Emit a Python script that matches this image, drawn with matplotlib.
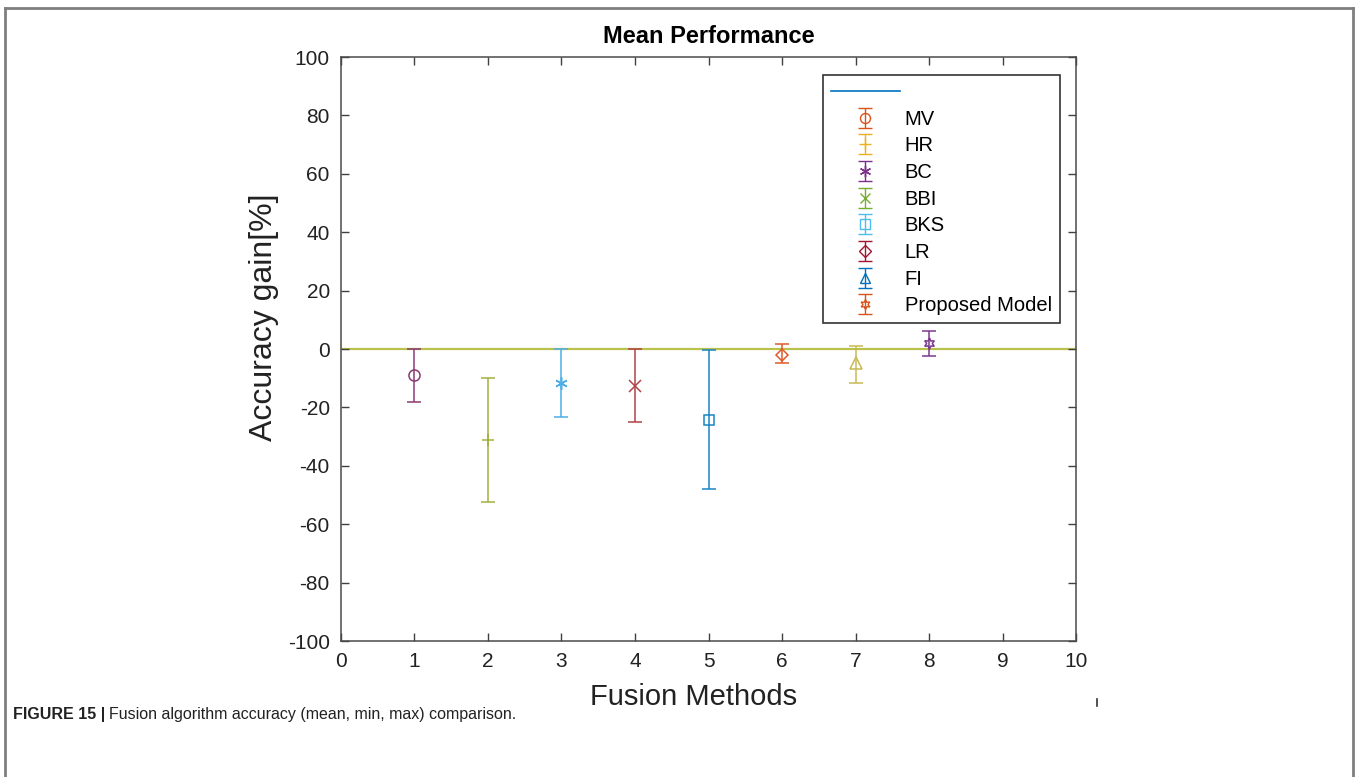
import numpy as np
import matplotlib.pyplot as plt
from matplotlib.lines import Line2D

# fusion methods on the x axis, accuracy gain (mean, min, max) in percent
method_pos = [1, 2, 3, 4, 5, 6, 7, 8]
mean_gain = [-9.0, -31.3, -11.6, -12.5, -24.3, -2.0, -4.8, 2.1]
min_gain = [-18.3, -52.4, -23.3, -24.9, -48.0, -4.7, -11.5, -2.3]
max_gain = [0.0, -10.0, 0.0, 0.0, -0.3, 1.6, 1.0, 6.2]

point_colors = ['#8a3a72', '#a3b13c', '#4eaee6', '#b04448', '#1a84c6',
                '#de5a2a', '#c9b955', '#7c3a8e']
markers = ['o', '+', (6, 2, 0), 'x', 's', 'D', '^', (6, 1, 0)]
marker_sizes = [8, 9, 9, 8, 7.5, 6.5, 8, 8]

legend_labels = ['MV', 'HR', 'BC', 'BBI', 'BKS', 'LR', 'FI', 'Proposed Model']
legend_colors = ['#d95319', '#edb120', '#7e2f8e', '#77ac30', '#4dbeee',
                 '#a2142f', '#0072bd', '#d95319']

plt.rcParams['font.family'] = ['Liberation Sans', 'DejaVu Sans']
plt.rcParams['axes.unicode_minus'] = False

fig = plt.figure(figsize=(13.59, 7.77), dpi=100)
ax = fig.add_axes([0.2509, 0.175, 0.5409, 0.7516])

# baseline at zero gain
ax.plot([0, 10], [0, 0], color='#b9c24a', lw=1.6, zorder=1)
base_proxy = Line2D([], [], color='#0072bd', lw=1.2)

for i in range(len(method_pos)):
    lo = mean_gain[i] - min_gain[i]
    hi = max_gain[i] - mean_gain[i]
    ax.errorbar([method_pos[i]], [mean_gain[i]], yerr=[[lo], [hi]],
                color=point_colors[i], marker=markers[i], ms=marker_sizes[i],
                mfc='none', mew=1.1, elinewidth=1.1, capsize=5, capthick=1.1,
                ls='none', zorder=3)

# legend entries drawn as empty errorbars
handles = [base_proxy]
for c, m, s in zip(legend_colors, markers, marker_sizes):
    h = ax.errorbar([np.nan], [np.nan], yerr=[[np.nan], [np.nan]], color=c,
                    marker=m, ms=s * 0.9, mfc='none', mew=1.0, elinewidth=1.0,
                    capsize=5, capthick=1.0, ls='none')
    handles.append(h)

leg = fig.legend(handles, [' '] + legend_labels, loc='upper left',
                 bbox_to_anchor=(823 / 1359, 1 - 75 / 777), fontsize=14.5,
                 frameon=True, fancybox=False, framealpha=1, edgecolor='#333333',
                 handlelength=3.4, handletextpad=0.25, labelspacing=0.38,
                 borderpad=0.4, borderaxespad=0)
leg.get_frame().set_linewidth(1.2)

ax.set_xlim(0, 10)
ax.set_ylim(-100, 100)
ax.set_xticks(range(0, 11))
ax.set_yticks(range(-100, 101, 20))
ax.tick_params(direction='in', top=True, right=True, length=6, width=1.0,
               color='#404040', labelsize=15, pad=8, labelcolor='#222222')
for sp in ax.spines.values():
    sp.set_color('#4a4a4a')
    sp.set_linewidth(1.1)

ax.set_title('Mean Performance', fontsize=17, fontweight='bold', pad=10)
ax.set_xlabel('Fusion Methods', fontsize=21, color='#222222')
ax.set_ylabel('Accuracy gain[%]', fontsize=23, color='#222222')
ax.xaxis.set_label_coords(0.479, -0.072)
ax.yaxis.set_label_coords(-0.084, 0.555)

# page frame and caption
frame_kw = dict(color='#7f7f7f', lw=2, transform=fig.transFigure)
fig.add_artist(Line2D([5 / 1359, 5 / 1359], [-0.01, 1 - 8 / 777], **frame_kw))
fig.add_artist(Line2D([5 / 1359, 1353 / 1359], [1 - 8 / 777, 1 - 8 / 777], **frame_kw))
fig.add_artist(Line2D([1353 / 1359, 1353 / 1359], [-0.01, 1 - 8 / 777], **frame_kw))
fig.add_artist(Line2D([1097 / 1359, 1097 / 1359], [1 - 699 / 777, 1 - 706 / 777],
                      color='#333333', lw=1.2, transform=fig.transFigure))

fig_lbl = fig.text(13 / 1359, 1 - 719 / 777, 'FIGURE 15 |', fontsize=11.5,
                   fontweight='bold', color='#222222', va='baseline')
fig.add_artist(plt.Annotation('Fusion algorithm accuracy (mean, min, max) comparison.',
                              xy=(1, 0), xycoords=fig_lbl, xytext=(3, 0),
                              textcoords='offset points', fontsize=11.5,
                              color='#222222', va='bottom'))

fig.savefig('out.png', dpi=100)
